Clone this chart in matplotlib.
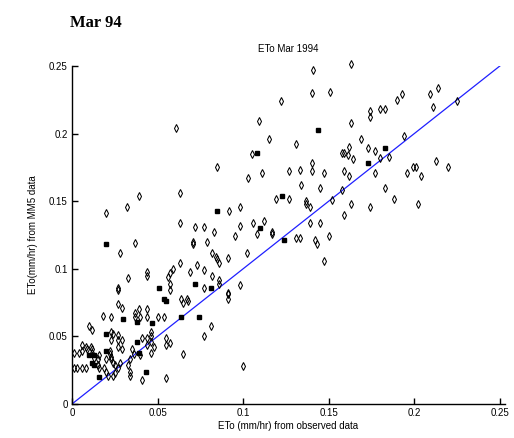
import matplotlib.pyplot as plt

# open diamonds: observed ETo (x) vs MM5 ETo (y), mm/hr
obs_open = [
    0.141, 0.163, 0.122, 0.140, 0.151, 0.174, 0.174, 0.180, 0.183, 0.190,
    0.193, 0.209, 0.214, 0.211, 0.225, 0.163, 0.169, 0.194, 0.131, 0.162,
    0.173, 0.177, 0.158, 0.159, 0.161, 0.164, 0.180, 0.185, 0.213, 0.220,
    0.199, 0.201, 0.196, 0.204, 0.140, 0.133, 0.127, 0.140, 0.147, 0.159,
    0.162, 0.177, 0.134, 0.145, 0.183, 0.158, 0.188, 0.119, 0.127, 0.137,
    0.137, 0.139, 0.152, 0.163, 0.174, 0.202, 0.159, 0.139, 0.145, 0.109,
    0.061, 0.115, 0.105, 0.085, 0.103, 0.111, 0.039, 0.032, 0.020, 0.063,
    0.092, 0.098, 0.063, 0.072, 0.077, 0.098, 0.106, 0.112, 0.117, 0.131,
    0.133, 0.142, 0.143, 0.150, 0.147, 0.083, 0.108, 0.117, 0.037, 0.028,
    0.071, 0.071, 0.079, 0.095, 0.082, 0.084, 0.085, 0.086, 0.091, 0.102,
    0.063, 0.059, 0.073, 0.077, 0.044, 0.044, 0.033, 0.057, 0.056, 0.069,
    0.082, 0.086, 0.086, 0.057, 0.077, 0.098, 0.091, 0.091, 0.091, 0.027,
    0.027, 0.057, 0.064, 0.067, 0.068, 0.065, 0.027, 0.029, 0.039, 0.044,
    0.054, 0.018, 0.023, 0.037, 0.037, 0.040, 0.044, 0.050, 0.010, 0.012,
    0.023, 0.024, 0.027, 0.027, 0.023, 0.029, 0.041, 0.044, 0.046, 0.046,
    0.055, 0.057, 0.077, 0.081, 0.046, 0.008, 0.009, 0.006, 0.001, 0.004,
    0.006, 0.012, 0.013, 0.015, 0.016, 0.022, 0.022, 0.023, 0.023, 0.024,
    0.025, 0.020, 0.027, 0.029, 0.035, 0.036, 0.044, 0.048, 0.040, 0.046,
    0.034, 0.033, 0.015, 0.020, 0.025, 0.024, 0.001, 0.003, 0.006, 0.008,
    0.034, 0.034, 0.055, 0.041, 0.100, 0.016, 0.019, 0.028, 0.027, 0.021,
    0.065, 0.055, 0.011, 0.012,
]
mm5_open = [
    0.247, 0.2515, 0.224, 0.230, 0.231, 0.217, 0.212, 0.218, 0.218, 0.225,
    0.229, 0.229, 0.234, 0.220, 0.224, 0.208, 0.196, 0.198, 0.192, 0.190,
    0.189, 0.187, 0.186, 0.186, 0.184, 0.181, 0.182, 0.183, 0.180, 0.175,
    0.175, 0.175, 0.171, 0.169, 0.178, 0.173, 0.172, 0.172, 0.171, 0.172,
    0.169, 0.171, 0.162, 0.160, 0.160, 0.158, 0.152, 0.152, 0.152, 0.150,
    0.148, 0.146, 0.151, 0.148, 0.146, 0.148, 0.140, 0.134, 0.134, 0.209,
    0.204, 0.196, 0.185, 0.175, 0.167, 0.171, 0.154, 0.146, 0.141, 0.156,
    0.143, 0.146, 0.134, 0.131, 0.131, 0.132, 0.134, 0.135, 0.127, 0.123,
    0.123, 0.121, 0.118, 0.124, 0.106, 0.127, 0.126, 0.126, 0.119, 0.112,
    0.120, 0.118, 0.120, 0.124, 0.112, 0.109, 0.107, 0.104, 0.108, 0.112,
    0.104, 0.100, 0.103, 0.099, 0.098, 0.095, 0.093, 0.097, 0.094, 0.098,
    0.095, 0.092, 0.089, 0.089, 0.086, 0.088, 0.082, 0.081, 0.078, 0.086,
    0.084, 0.084, 0.078, 0.078, 0.076, 0.075, 0.074, 0.071, 0.070, 0.070,
    0.064, 0.065, 0.064, 0.067, 0.064, 0.064, 0.064, 0.064, 0.058, 0.055,
    0.053, 0.052, 0.051, 0.047, 0.047, 0.047, 0.049, 0.049, 0.050, 0.053,
    0.049, 0.045, 0.050, 0.058, 0.046, 0.042, 0.041, 0.044, 0.038, 0.038,
    0.039, 0.038, 0.034, 0.033, 0.036, 0.039, 0.037, 0.035, 0.033, 0.030,
    0.029, 0.033, 0.042, 0.041, 0.041, 0.037, 0.044, 0.042, 0.036, 0.038,
    0.033, 0.029, 0.029, 0.024, 0.023, 0.021, 0.027, 0.027, 0.027, 0.027,
    0.021, 0.024, 0.019, 0.018, 0.028, 0.027, 0.027, 0.030, 0.027, 0.021,
    0.037, 0.044, 0.042, 0.041,
]

# filled squares
obs_fill = [0.144, 0.183, 0.173, 0.123, 0.108, 0.085, 0.110, 0.124, 0.020, 0.051,
            0.072, 0.081, 0.054, 0.055, 0.064, 0.074, 0.030, 0.038, 0.047, 0.020,
            0.038, 0.020, 0.039, 0.013, 0.010, 0.012, 0.013, 0.016, 0.043]
mm5_fill = [0.203, 0.189, 0.178, 0.154, 0.186, 0.143, 0.130, 0.121, 0.118, 0.086,
            0.089, 0.086, 0.078, 0.076, 0.064, 0.064, 0.063, 0.061, 0.060, 0.052,
            0.046, 0.039, 0.038, 0.036, 0.036, 0.030, 0.029, 0.020, 0.024]

one_to_one = [0, 0.252]
ticks = [0, 0.05, 0.1, 0.15, 0.2, 0.25]
tick_labels = ['0', '0.05', '0.1', '0.15', '0.2', '0.25']

plt.rcParams['font.family'] = ['Liberation Sans', 'DejaVu Sans']

fig = plt.figure(figsize=(5.14, 4.38), dpi=100)
ax = fig.add_axes([0.140, 0.0776, 0.8424, 0.7717])

ax.plot(one_to_one, one_to_one, color='#1f1fff', lw=0.9, zorder=2)
ax.plot(obs_open, mm5_open, linestyle='none', marker='d', markersize=3.8,
        markerfacecolor='none', markeredgecolor='black', markeredgewidth=0.75,
        clip_on=False, zorder=3)
ax.plot(obs_fill, mm5_fill, linestyle='none', marker='s', markersize=2.6,
        color='black', clip_on=False, zorder=3)

ax.set_xlim(0, 0.253)
ax.set_ylim(0, 0.25)
ax.set_xticks(ticks)
ax.set_xticklabels(tick_labels)
ax.set_yticks(ticks)
ax.set_yticklabels(tick_labels)
ax.tick_params(direction='in', length=4, width=1, labelsize=7, pad=3)
for side in ['top', 'right']:
    ax.spines[side].set_visible(False)
for side in ['left', 'bottom']:
    ax.spines[side].set_linewidth(1.0)

ax.set_title('ETo Mar 1994', fontsize=7, pad=10)
ax.set_xlabel('ETo (mm/hr) from observed data', fontsize=7, labelpad=2)
ax.set_ylabel('ETo(mm/hr) from MM5 data', fontsize=7, labelpad=8)

fig.text(0.136, 0.938, 'Mar 94', family='Liberation Serif', fontweight='bold',
         fontsize=12)

fig.savefig('out.png', dpi=100)
